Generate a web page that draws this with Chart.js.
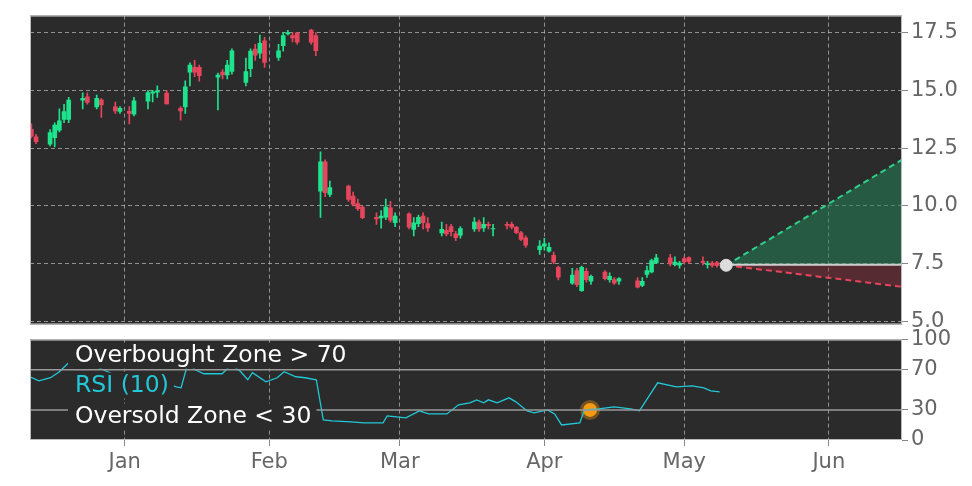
<!DOCTYPE html>
<html><head><meta charset="utf-8">
<script src="https://cdn.jsdelivr.net/npm/chart.js@4.4.1/dist/chart.umd.min.js"></script>
<style>
html,body{margin:0;padding:0;background:#fff;}
#w1{position:absolute;left:0;top:0;width:972px;height:340px;}
#w2{position:absolute;left:0;top:324px;width:972px;height:162px;}
</style></head><body>
<div id="w1"><canvas id="c1"></canvas></div>
<div id="w2"><canvas id="c2"></canvas></div>
<script>
// days since Jan 1
const candleDays=[-20,-19,-16,-15,-14,-13,-12,-9,-8,-6,-5,-2,-1,1,2,5,6,7,9,12,13,14,15,16,20,21,22,23,26,27,28,29,30,33,34,35,36,37,40,41,42,43,44,48,49,50,51,54,55,56,57,58,61,62,63,64,65,68,69,70,71,72,75,76,77,78,79,82,83,84,85,86,89,90,91,92,93,96,97,98,99,100,103,104,105,106,110,111,112,113,114,117,118,119,120,121,124,125,126,127,129];
const opens=[13.32,12.99,12.67,12.96,13.28,13.75,13.75,14.58,14.72,14.29,14.59,14.29,14.09,14.1,13.97,14.53,14.88,14.92,14.88,14.22,14.29,15.79,16.0,16.0,15.57,15.8,15.67,15.82,15.35,15.94,16.79,16.61,17.15,16.43,16.94,17.45,17.37,17.49,17.61,17.37,10.64,11.91,10.5,10.86,10.43,10.1,9.95,9.51,9.48,9.51,9.92,9.27,9.66,8.98,9.23,9.56,9.23,8.83,8.94,9.11,8.79,8.73,9.0,9.3,9.05,9.2,9.0,9.2,9.2,9.08,8.84,8.62,8.11,8.26,8.04,7.86,7.34,6.66,7.2,6.33,7.17,6.74,7.14,6.81,6.81,6.74,6.76,6.56,7.03,7.14,7.53,7.75,7.46,7.43,7.72,7.76,7.6,7.46,7.53,7.55,7.4];
const closes=[13.02,12.78,13.17,13.5,13.68,14.08,14.58,14.66,14.48,14.66,14.37,14.11,14.22,14.0,14.55,14.91,14.94,14.98,14.42,14.11,15.16,16.1,15.79,15.64,15.67,15.67,16.1,16.72,15.82,16.7,16.53,17.04,16.21,16.72,17.37,17.51,17.27,17.09,17.09,16.72,11.91,10.57,10.79,10.28,10.06,9.88,9.49,9.44,9.56,9.95,9.38,9.56,9.08,9.27,9.51,9.27,9.05,8.99,8.79,8.88,8.62,9.02,9.3,9.0,9.2,9.15,9.02,9.16,9.08,8.84,8.55,8.3,8.26,8.36,8.21,7.57,6.91,7.0,6.59,7.34,6.81,6.95,6.85,6.95,6.66,6.85,6.48,6.74,7.2,7.63,7.75,7.49,7.57,7.53,7.58,7.6,7.55,7.5,7.42,7.42,7.45];
const highs=[13.55,13.1,13.3,13.6,14.2,14.4,14.7,14.9,14.9,14.8,14.65,14.5,14.3,14.3,14.7,15.0,15.0,15.2,15.0,14.3,15.42,16.2,16.3,16.1,15.75,15.9,16.3,16.8,16.4,16.8,17.0,17.4,17.3,17.0,17.5,17.6,17.5,17.5,17.65,17.5,12.34,12.0,11.08,10.9,10.6,10.3,10.0,9.7,9.8,10.3,10.2,9.7,9.7,9.5,9.6,9.7,9.5,9.3,9.2,9.2,8.9,9.1,9.5,9.4,9.5,9.3,9.2,9.3,9.3,9.1,8.9,8.7,8.5,8.6,8.4,8.0,7.4,7.3,7.3,7.4,7.3,7.0,7.2,7.1,6.9,6.9,6.9,6.9,7.4,7.7,7.9,7.9,7.8,7.6,7.8,7.8,7.8,7.6,7.6,7.6,7.5];
const lows=[12.94,12.7,12.6,12.55,13.2,13.6,13.6,14.2,14.4,14.2,13.83,14.0,14.0,13.55,13.9,14.2,14.5,14.7,14.4,13.71,14.0,15.2,15.6,15.4,14.16,15.5,15.5,15.7,15.2,15.6,16.3,16.4,16.0,16.3,16.7,17.4,17.1,17.0,17.0,16.5,9.5,10.4,10.4,10.2,10.0,9.8,9.45,9.2,9.04,9.4,9.3,9.1,9.0,8.7,9.1,9.0,8.9,8.7,8.7,8.7,8.5,8.6,8.9,8.9,8.9,9.0,8.7,9.0,9.0,8.8,8.5,8.2,7.9,8.1,8.0,7.5,6.8,6.6,6.5,6.3,6.7,6.6,6.8,6.7,6.6,6.6,6.45,6.5,6.9,7.1,7.5,7.4,7.4,7.3,7.5,7.5,7.45,7.3,7.35,7.35,7.35];
const projDays=[129,166.7];
const projUpper=[7.43,12.0];
const projMid=[7.45,7.45];
const projLower=[7.43,6.5];
const rsiDays=[-20.3,-18.4,-15.9,-14,-12,-10.5,-8.5,-5.6,-2.7,-0.7,3.3,7.2,11.1,12.1,13.6,15.1,17,20.9,22.9,24.9,26.4,27.4,30.3,32.7,34.2,36.7,38.7,41.1,42.6,44.5,48.5,51.4,55.4,56.3,58.3,60.3,63.2,65.2,69.1,71.6,74,75.5,77,78,79.9,82.4,83.9,86.3,87.8,90.7,92.2,93.7,97.6,98.6,101.6,105,108.5,110.4,114.3,118.3,121.7,124.2,125.7,127.6];
const rsiVals=[63,59,62,68,77,78,76,72,66,63,60,59,53,52,77,70,66,66,75,68,60,67,58,62,68,63,62,60,20,19,18,17,17,24,23,22,29,26,26,35,37,40,37,40,37,42,38,29,27,30,26,15,17,30,31,33,31,29,57,53,54,52,49,48];
const signalDay=99.8, signalRsi=30;
const monthLabels=['Jan','Feb','Mar','Apr','May','Jun'];
const monthDays=[0,31,59,90,120,151];
const priceTicks=[5,7.5,10,12.5,15,17.5];
const rsiTicks=[0,30,70,100];

const XMIN=-20.3, XMAX=166.7;
const BG='#2b2b2b', GREEN='#1de38c', RED='#e6455c', TXT='#666';
const FONT='DejaVu Sans';
const bgPlugin={id:'bg',beforeDraw(c){const a=c.chartArea,x=c.ctx;x.save();x.fillStyle=BG;x.fillRect(a.left,a.top,a.width,a.height);x.restore();},
 afterDraw(c){const a=c.chartArea,x=c.ctx;x.save();x.strokeStyle='#bbb';x.lineWidth=1;x.strokeRect(a.left+0.5,a.top+0.5,a.width-1,a.height-1);x.restore();}};
const candleColor=ctx=>{const i=ctx.dataIndex;return closes[i]>=opens[i]?GREEN:RED;};
const bodies=candleDays.map((d,i)=>({x:d,y:[opens[i],closes[i]]}));
const wicks=candleDays.map((d,i)=>({x:d,y:[lows[i],highs[i]]}));
const pt=(xs,ys)=>xs.map((d,i)=>({x:d,y:ys[i]}));
const GC='rgba(190,190,190,0.7)';
new Chart(document.getElementById('c1'),{
 data:{datasets:[
  {type:'line',data:pt(projDays,projMid),borderColor:'#cfcfcf',borderWidth:2,pointRadius:0,order:5},
  {type:'line',data:pt(projDays,projUpper),borderColor:'#2fd08a',borderDash:[6,4],borderWidth:2,pointRadius:0,fill:{target:0},backgroundColor:'rgba(35,130,85,0.55)',order:5},
  {type:'line',data:pt(projDays,projLower),borderColor:'#e6455c',borderDash:[6,4],borderWidth:2,pointRadius:0,fill:{target:0},backgroundColor:'rgba(140,45,60,0.45)',order:5},
  {type:'bar',data:wicks,backgroundColor:candleColor,barThickness:1,grouped:false,order:3},
  {type:'bar',data:bodies,backgroundColor:candleColor,barThickness:4,grouped:false,order:2},
  {type:'scatter',data:[{x:projDays[0],y:projUpper[0]}],pointRadius:6,backgroundColor:'#dcdcdc',borderColor:'#dcdcdc',order:1}
 ]},
 options:{responsive:true,maintainAspectRatio:false,animation:false,
  layout:{padding:{left:30,top:15,bottom:12,right:0}},
  plugins:{legend:{display:false},tooltip:{enabled:false}},
  scales:{
   x:{type:'linear',offset:false,min:XMIN,max:XMAX,afterBuildTicks:s=>{s.ticks=monthDays.map(v=>({value:v}));},
      afterFit:s=>{s.height=0;},
      ticks:{display:false,autoSkip:false},border:{display:false,dash:[4,3]},grid:{color:GC,drawTicks:false,offset:false},display:true},
   y:{position:'right',min:4.87,max:18.24,afterBuildTicks:s=>{s.ticks=priceTicks.map(v=>({value:v}));},
      afterFit:s=>{s.width=70;},border:{display:false,dash:[4,3]},
      grid:{color:GC,tickColor:'#888',tickLength:6},
      ticks:{color:TXT,font:{family:FONT,size:21},padding:3,callback:v=>v.toFixed(1)}}
  }},
 plugins:[bgPlugin]
});
const textPlugin={id:'txt',afterDatasetsDraw(c){const x=c.ctx;x.save();x.font='23.5px "DejaVu Sans"';x.textBaseline='middle';
 const a=c.chartArea.top;
 const items=[['Overbought Zone > 70','#ffffff',16],['RSI (10)','#22c8d8',46],['Oversold Zone < 30','#ffffff',77]];
 for(const [t,col,y] of items){const w=x.measureText(t).width;x.fillStyle=BG;x.fillRect(68,a+y-13,w+12,26);x.fillStyle=col;x.fillText(t,75,a+y);}
 x.restore();}};
new Chart(document.getElementById('c2'),{
 data:{datasets:[
  {type:'line',data:[{x:XMIN,y:70},{x:XMAX,y:70}],borderColor:'#9a9a9a',borderWidth:1.5,pointRadius:0},
  {type:'line',data:[{x:XMIN,y:30},{x:XMAX,y:30}],borderColor:'#9a9a9a',borderWidth:1.5,pointRadius:0},
  {type:'line',data:pt(rsiDays,rsiVals),borderColor:'#22c8d8',borderWidth:1.3,pointRadius:0,tension:0},
  {type:'scatter',data:[{x:signalDay,y:signalRsi}],pointRadius:7,backgroundColor:'#f59a12',borderColor:'rgba(245,154,18,0.35)',borderWidth:6}
 ]},
 options:{responsive:true,maintainAspectRatio:false,animation:false,
  layout:{padding:{left:30,top:0,bottom:0,right:0}},
  plugins:{legend:{display:false},tooltip:{enabled:false}},
  scales:{
   x:{type:'linear',offset:false,min:XMIN,max:XMAX,afterBuildTicks:s=>{s.ticks=monthDays.map(v=>({value:v}));},
      afterFit:s=>{s.height=46;},border:{display:false,dash:[4,3]},
      grid:{color:GC,tickColor:'#888',tickLength:6},
      ticks:{color:TXT,font:{family:FONT,size:21},padding:4,autoSkip:false,callback:(v)=>monthLabels[monthDays.indexOf(v)]}},
   y:{position:'right',min:0,max:100,afterBuildTicks:s=>{s.ticks=rsiTicks.map(v=>({value:v}));},
      afterFit:s=>{s.width=70;},border:{display:false},
      grid:{drawOnChartArea:false,tickColor:'#888',tickLength:6},
      ticks:{color:TXT,font:{family:FONT,size:21},padding:3}}
  }},
 plugins:[bgPlugin,textPlugin]
});
</script></body></html>
